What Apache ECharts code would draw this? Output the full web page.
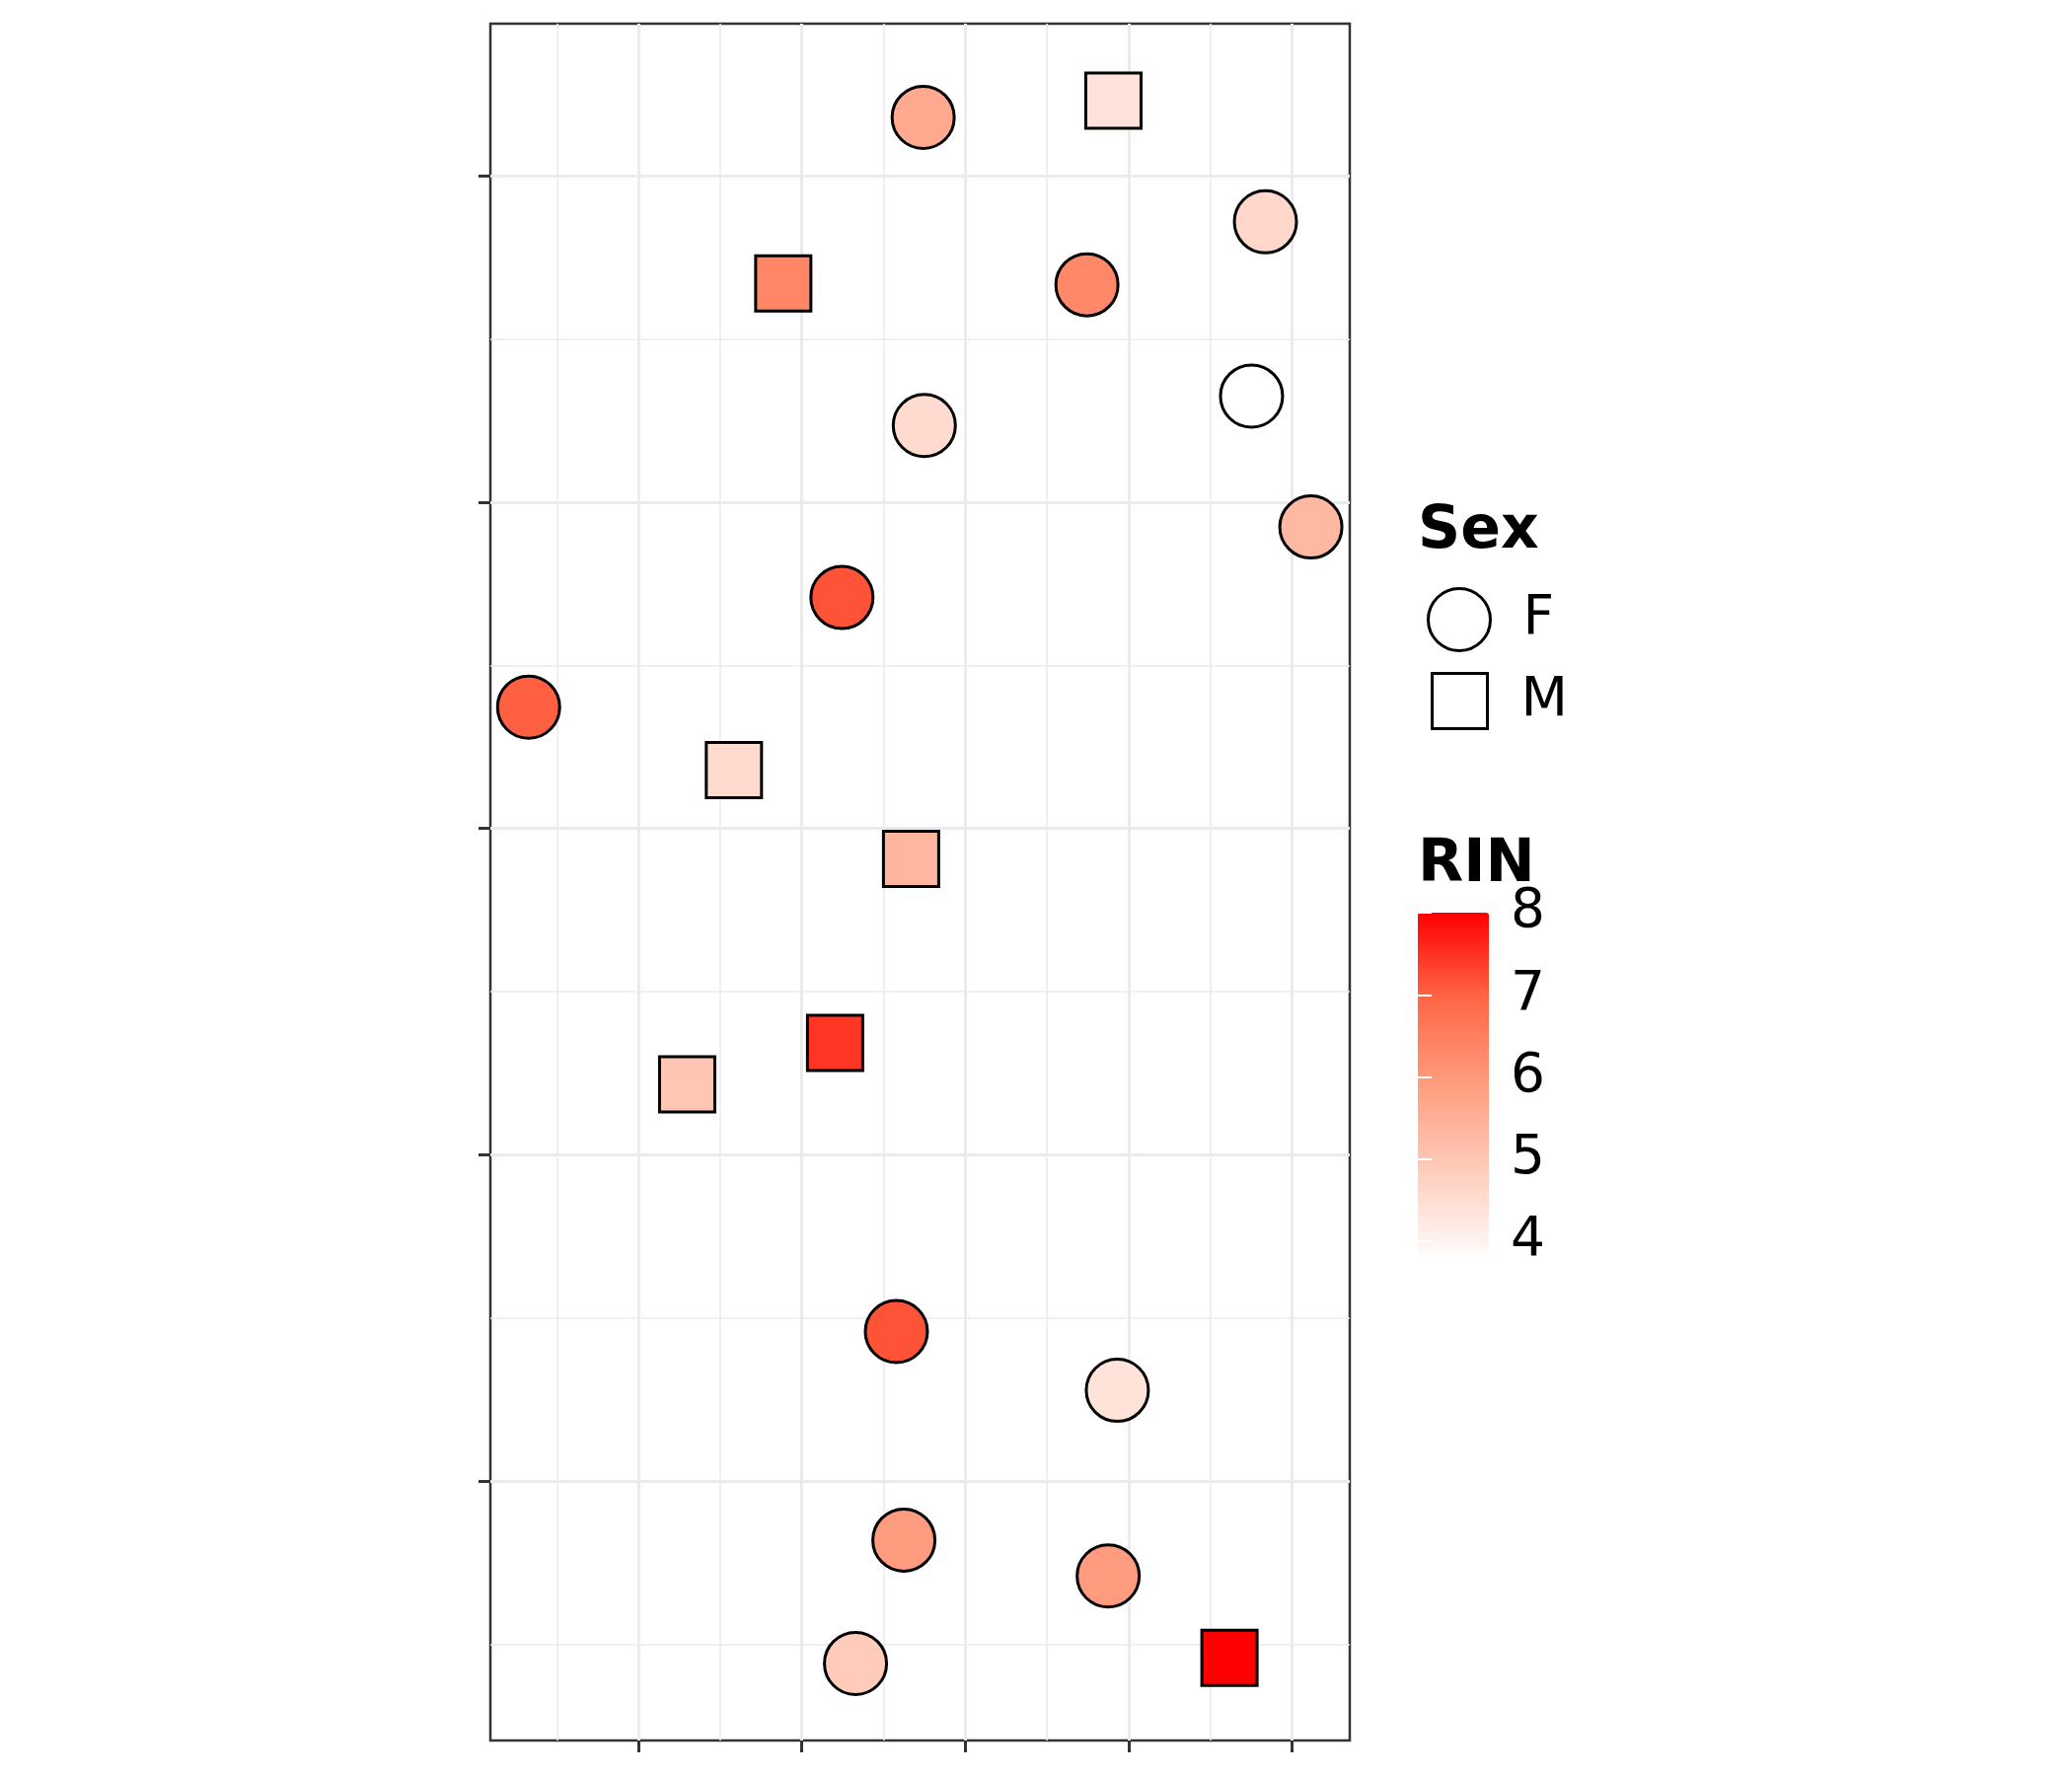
<!DOCTYPE html>
<html>
<head>
<meta charset="utf-8">
<style>
html,body{margin:0;padding:0;background:#fff;}
#chart{width:2100px;height:1800px;}
</style>
<script src="https://cdn.jsdelivr.net/npm/echarts@6/dist/echarts.min.js"></script>
</head>
<body>
<div id="chart"></div>
<script>
// ---- data ----
var F_X   = [2.742, 4.836, 3.744, 4.751, 2.749, 5.114, 2.245, 0.328, 2.578, 3.930, 2.624, 3.874, 2.328];
var F_Y   = [5.179, 4.859, 4.666, 4.325, 4.235, 3.924, 3.708, 3.372, 1.459, 1.279, 0.820, 0.710, 0.442];
var F_RIN = [5.62, 4.61, 6.30, 3.75, 4.54, 5.29, 7.15, 7.02, 7.15, 4.39, 5.93, 5.93, 4.90];

var M_X   = [3.906, 1.886, 1.584, 2.668, 2.203, 1.298, 4.616];
var M_Y   = [5.230, 4.670, 3.179, 2.907, 2.343, 2.216, 0.459];
var M_RIN = [4.37, 6.35, 4.57, 5.38, 7.45, 5.01, 8.00];

var X_RANGE = [0.094, 5.352];
var Y_RANGE = [0.206, 5.466];
var X_TICKS = [1, 2, 3, 4, 5];
var X_MINOR = [0.5, 1.5, 2.5, 3.5, 4.5];
var Y_TICKS = [1, 2, 3, 4, 5];
var Y_MINOR = [0.5, 1.5, 2.5, 3.5, 4.5];
var RIN_RANGE = [3.75, 8];
var RIN_TICKS = [4, 5, 6, 7, 8];
var SEX = ['F', 'M'];

function zip(xs, ys, vs) { return xs.map(function (x, i) { return [x, ys[i], vs[i]]; }); }

var FONT = 'DejaVu Sans';
var GRID_COLOR = '#EBEBEB';
var DARK = '#333333';

var chart = echarts.init(document.getElementById('chart'), null, {renderer: 'canvas'});

var option = {
  animation: false,
  backgroundColor: '#ffffff',
  textStyle: {fontFamily: FONT},
  title: [
    {text: 'Sex', left: 1437, top: 509, padding: 0,
     textStyle: {fontFamily: FONT, fontSize: 60, fontWeight: 'bold', color: '#000'}},
    {text: 'RIN', left: 1437, top: 847, padding: 0,
     textStyle: {fontFamily: FONT, fontSize: 60, fontWeight: 'bold', color: '#000'}}
  ],
  legend: [
    {data: [{name: SEX[0], icon: 'circle', itemStyle: {color: '#fff', borderColor: '#000', borderWidth: 3}}],
     left: 1446, top: 595, padding: 0, itemWidth: 63, itemHeight: 63, selectedMode: false,
     textStyle: {fontFamily: FONT, fontSize: 55, color: '#000', padding: [0, 0, 0, 28]}},
    {data: [{name: SEX[1], icon: 'rect', itemStyle: {color: '#fff', borderColor: '#000', borderWidth: 3}}],
     left: 1450, top: 681, padding: 0, itemWidth: 56, itemHeight: 56, selectedMode: false,
     textStyle: {fontFamily: FONT, fontSize: 55, color: '#000', padding: [0, 0, 0, 29]}}
  ],
  visualMap: {
    type: 'continuous',
    min: RIN_RANGE[0], max: RIN_RANGE[1],
    dimension: 2,
    seriesIndex: [0, 1],
    calculable: false,
    hoverLink: false,
    orient: 'vertical',
    left: 1437, top: 925, padding: 0,
    itemWidth: 72, itemHeight: 354,
    text: null,
    showLabel: false,
    inRange: {color: ['#FFFFFF', '#FFCFBF', '#FF9E81', '#FF6846', '#FF0000']}
  },
  grid: [
    {left: 497, top: 24, width: 871, height: 1740, show: true,
     borderColor: DARK, borderWidth: 2.5, backgroundColor: 'transparent', containLabel: false},
    {left: 1437, top: 925, width: 72, height: 354, show: false, containLabel: false}
  ],
  xAxis: [
    {type: 'value', gridIndex: 0, min: X_RANGE[0], max: X_RANGE[1], position: 'bottom',
     axisLine: {show: false},
     axisTick: {show: true, customValues: X_TICKS, length: 12, lineStyle: {color: DARK, width: 3}},
     axisLabel: {show: false},
     splitLine: {show: true, lineStyle: {color: GRID_COLOR, width: 3}}},
    {type: 'value', gridIndex: 0, min: X_RANGE[0], max: X_RANGE[1], position: 'top',
     axisLine: {show: false},
     axisTick: {show: false, customValues: X_MINOR},
     axisLabel: {show: false},
     splitLine: {show: true, lineStyle: {color: GRID_COLOR, width: 1.6}}},
    {type: 'value', gridIndex: 1, show: false, min: 0, max: 1}
  ],
  yAxis: [
    {type: 'value', gridIndex: 0, min: Y_RANGE[0], max: Y_RANGE[1], position: 'left',
     axisLine: {show: false},
     axisTick: {show: true, customValues: Y_TICKS, length: 12, lineStyle: {color: DARK, width: 3}},
     axisLabel: {show: false},
     splitLine: {show: true, lineStyle: {color: GRID_COLOR, width: 3}}},
    {type: 'value', gridIndex: 0, min: Y_RANGE[0], max: Y_RANGE[1], position: 'right',
     axisLine: {show: false},
     axisTick: {show: false, customValues: Y_MINOR},
     axisLabel: {show: false},
     splitLine: {show: true, lineStyle: {color: GRID_COLOR, width: 1.6}}},
    {type: 'value', gridIndex: 1, min: RIN_RANGE[0], max: RIN_RANGE[1], position: 'right', z: 20,
     axisLine: {show: false},
     axisTick: {show: true, inside: true, customValues: RIN_TICKS, length: 14, lineStyle: {color: '#fff', width: 2}},
     axisLabel: {show: true, customValues: RIN_TICKS, margin: 22, padding: [8, 0, 0, 0],
                 fontFamily: FONT, fontSize: 55, color: '#000'},
     splitLine: {show: false}},
    {type: 'value', gridIndex: 1, min: RIN_RANGE[0], max: RIN_RANGE[1], position: 'left', z: 20,
     axisLine: {show: false},
     axisTick: {show: true, inside: true, customValues: RIN_TICKS, length: 14, lineStyle: {color: '#fff', width: 2}},
     axisLabel: {show: false},
     splitLine: {show: false}}
  ],
  series: [
    {name: SEX[0], type: 'scatter', xAxisIndex: 0, yAxisIndex: 0,
     symbol: 'circle', symbolSize: 63, z: 5,
     itemStyle: {borderColor: '#000', borderWidth: 3, opacity: 1},
     emphasis: {disabled: true},
     data: zip(F_X, F_Y, F_RIN)},
    {name: SEX[1], type: 'scatter', xAxisIndex: 0, yAxisIndex: 0,
     symbol: 'rect', symbolSize: 56, z: 5,
     itemStyle: {borderColor: '#000', borderWidth: 3, opacity: 1},
     emphasis: {disabled: true},
     data: zip(M_X, M_Y, M_RIN)}
  ]
};
chart.setOption(option);
</script>
</body>
</html>
